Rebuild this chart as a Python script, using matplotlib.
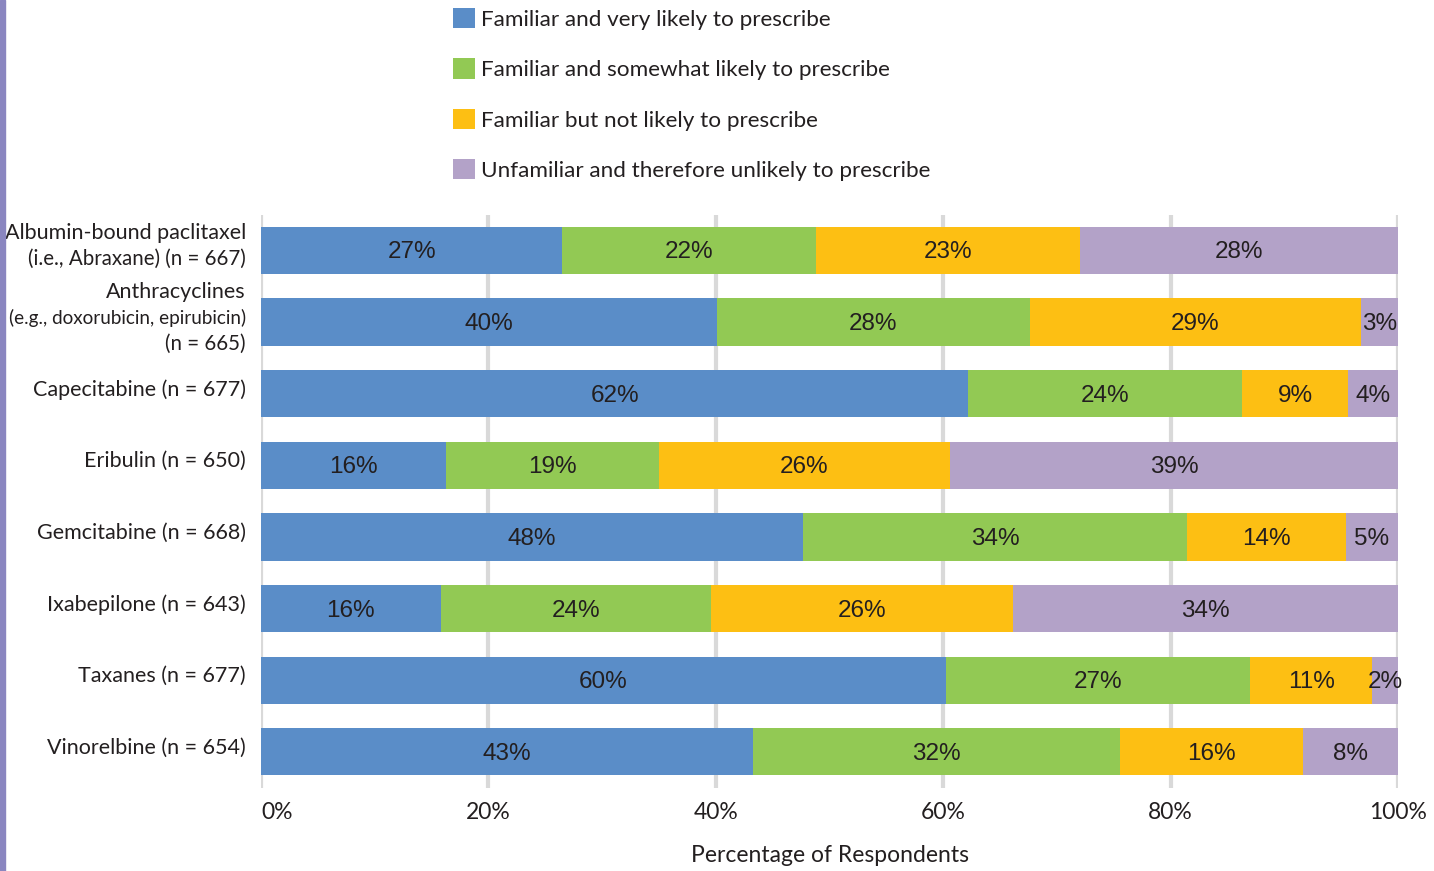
import matplotlib.pyplot as plt
from matplotlib.patches import Rectangle, Patch

drugs = [
    "Albumin-bound paclitaxel\n(i.e., Abraxane) (n = 667)",
    "Anthracyclines\n(e.g., doxorubicin, epirubicin)\n(n = 665)",
    "Capecitabine (n = 677)",
    "Eribulin (n = 650)",
    "Gemcitabine (n = 668)",
    "Ixabepilone (n = 643)",
    "Taxanes (n = 677)",
    "Vinorelbine (n = 654)",
]
series = [
    "Familiar and very likely to prescribe",
    "Familiar and somewhat likely to prescribe",
    "Familiar but not likely to prescribe",
    "Unfamiliar and therefore unlikely to prescribe",
]
# segment widths (percent)
very_likely = [26.5, 40.1, 62.2, 16.3, 47.7, 15.8, 60.2, 43.3]
somewhat_likely = [22.3, 27.5, 24.1, 18.7, 33.7, 23.8, 26.8, 32.2]
not_likely = [23.2, 29.1, 9.3, 25.6, 14.0, 26.5, 10.7, 16.1]
unfamiliar = [28.0, 3.3, 4.4, 39.4, 4.6, 33.9, 2.3, 8.4]
# printed labels
lab_very = [27, 40, 62, 16, 48, 16, 60, 43]
lab_some = [22, 28, 24, 19, 34, 24, 27, 32]
lab_not = [23, 29, 9, 26, 14, 26, 11, 16]
lab_unf = [28, 3, 4, 39, 5, 34, 2, 8]

colors = ["#5a8dc8", "#92c954", "#fdbf13", "#b3a2c8"]
txt = "#231f20"
font_main = ["Lato", "DejaVu Sans"]
font_lab = ["Liberation Sans", "DejaVu Sans"]

fig = plt.figure(figsize=(14.34, 8.71), dpi=100)
ax = fig.add_axes([0.182, 0.0957, 0.793, 0.658])

fig.patches.append(Rectangle((0, 0), 5 / 1434, 1, transform=fig.transFigure,
                             color="#8a86c0", zorder=0))

y = list(range(len(drugs)))
left = [0.0] * len(drugs)
all_vals = [very_likely, somewhat_likely, not_likely, unfamiliar]
all_labs = [lab_very, lab_some, lab_not, lab_unf]
for vals, labs, c in zip(all_vals, all_labs, colors):
    ax.barh(y, vals, left=left, height=0.66, color=c, zorder=3)
    for i in range(len(drugs)):
        cx = left[i] + vals[i] / 2
        ax.text(cx, i + 0.03, f"{labs[i]}%", ha="center", va="center",
                fontsize=17.5, color=txt, family=font_lab, zorder=4)
    left = [l + v for l, v in zip(left, vals)]

ax.set_xlim(0, 100)
ax.set_ylim(len(drugs) - 0.5, -0.5)
ticks = [0, 20, 40, 60, 80, 100]
ax.set_xticks(ticks)
xl = ax.set_xticklabels([f"{t}%" for t in ticks],
                        family=font_main, fontsize=16.5, color=txt)
xl[0].set_ha("left")
ax.set_yticks(y)
ax.set_yticklabels([])
ax.tick_params(axis="both", length=0)
ax.tick_params(axis="x", pad=10)
ax.xaxis.grid(True, color="#d9d9d9", linewidth=3, zorder=0)
ax.set_axisbelow(True)
for s in ax.spines.values():
    s.set_visible(False)
ax.set_xlabel("Percentage of Respondents", family=font_main, fontsize=16.5,
              color=txt, labelpad=16)

# category labels: first line larger, following lines a bit smaller
for i, name in enumerate(drugs):
    lines = name.split("\n")
    n = len(lines)
    for k, line in enumerate(lines):
        dy = 4 + ((n - 1) / 2 - k) * 26
        if k == 0:
            fs = 15.5
        elif len(line) > 28:
            fs = 13.6
        else:
            fs = 14.8
        ax.annotate(line, xy=(0, i), xycoords=("axes fraction", "data"),
                    xytext=(-15, dy), textcoords="offset pixels",
                    ha="right", va="center", color=txt, family=font_main,
                    fontsize=fs)

handles = [Patch(facecolor=c) for c in colors]
fig.legend(handles, series, loc="upper left", bbox_to_anchor=(0.302, 1.014),
           frameon=False, handlelength=0.95, handleheight=1.0, handletextpad=0.3,
           labelspacing=1.27, prop={"family": font_main, "size": 16.2},
           labelcolor=txt)

fig.savefig("out.png", dpi=100)
